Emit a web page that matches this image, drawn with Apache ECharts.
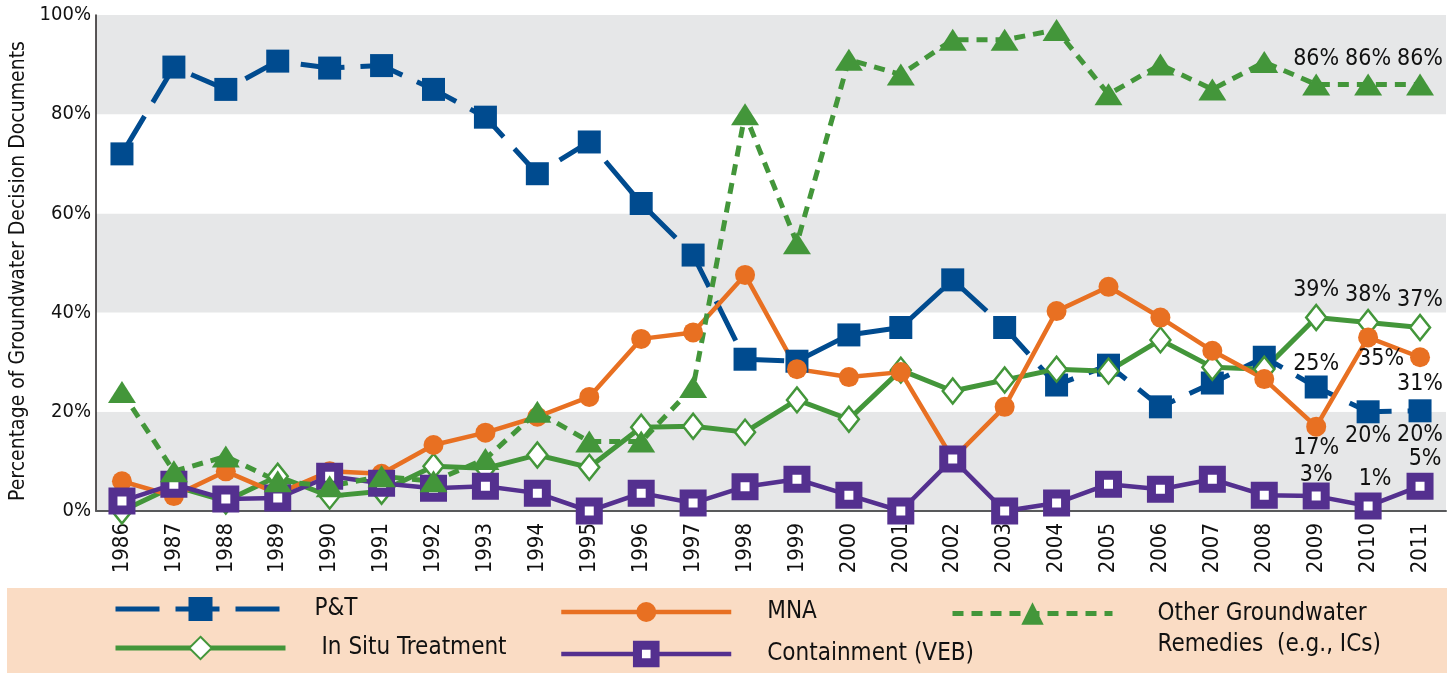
<!DOCTYPE html>
<html>
<head>
<meta charset="utf-8">
<script src="https://cdn.jsdelivr.net/npm/echarts@6/dist/echarts.min.js"></script>
<style>
  html, body { margin: 0; padding: 0; background: #fff; }
  #main { width: 1456px; height: 673px; }
</style>
</head>
<body>
<div id="main"></div>
<script>
// 年份（类目轴）
var years = ['1986', '1987', '1988', '1989', '1990', '1991', '1992', '1993', '1994', '1995', '1996', '1997', '1998',
	'1999', '2000', '2001', '2002', '2003', '2004', '2005', '2006', '2007', '2008', '2009', '2010', '2011'];

// 各类修复方式所占百分比
var ptValues = [72, 89.5, 85, 90.7, 89.3, 89.8, 85, 79.4, 68, 74.4, 62, 51.6, 30.6, 30.2, 35.5, 37, 46.6, 37, 25.4, 29.4, 21, 25.8, 31, 25, 20, 20.2];
var mnaValues = [6, 3, 8, 3.5, 8, 7.5, 13.3, 15.8, 19, 23, 34.7, 36, 47.6, 28.6, 27, 28, 10.5, 21, 40.3, 45.2, 39, 32.3, 26.6, 17, 35, 31];
var inSituValues = [0, 5, 2, 7, 3, 4, 9, 8.6, 11.3, 8.8, 16.9, 17.1, 15.9, 22.4, 18.5, 28.4, 24.2, 26.4, 28.6, 28.2, 34.5, 29, 28.6, 39, 38, 37];
var otherValues = [24, 8, 11, 6, 5, 7, 6, 10.5, 20, 14, 14, 25, 80, 54, 91, 88, 95, 95, 97, 84, 90, 85, 90.5, 86, 86, 86];
var containmentValues = [2, 5.4, 2.4, 2.6, 7, 5.6, 4.6, 5, 3.6, 0, 3.6, 1.6, 4.9, 6.4, 3.2, 0, 10.5, 0, 1.6, 5.4, 4.4, 6.4, 3.2, 3, 1, 5];

// y轴刻度
var yTicks = [0, 20, 40, 60, 80, 100];

var narrow = "'DejaVu Sans Condensed', sans-serif";

(function(){

	init();

	function init(){
		var myChart = echarts.init(document.getElementById('main'));
		myChart.setOption(buildOption());
	}

	// 最后三个点带数值标签，位置各不相同
	function withLabels(values, places){
		var n = values.length;
		return values.map(function(v, i){
			var k = i - (n - 3);
			if (k < 0) return v;
			var p = places[k];
			return {
				value: v,
				label: {
					show: true,
					position: p.pos,
					distance: p.dist,
					offset: p.off || [0, 0],
					formatter: function(params){ return Math.round(params.value) + '%'; },
					fontFamily: narrow,
					fontSize: 23,
					color: '#111'
				}
			};
		});
	}

	function legendFor(name, left, top, w, h, extra){
		var lg = {
			show: true,
			left: left,
			top: top,
			padding: 0,
			itemWidth: w,
			itemHeight: h,
			data: [name],
			selectedMode: false,
			lineStyle: { width: extra.lineWidth || 5 },
			textStyle: {
				fontFamily: narrow,
				fontSize: 24,
				color: '#111',
				padding: extra.padding || [0, 0, 0, 0],
				lineHeight: extra.lineHeight || 30
			}
		};
		if (extra.itemStyle) lg.itemStyle = extra.itemStyle;
		if (extra.formatter) lg.formatter = extra.formatter;
		return lg;
	}

	function buildOption(){
		var blue = '#004b8f', orange = '#e87022', green = '#43963a', purple = '#54308f';
		return {
			animation: false,
			backgroundColor: '#fff',
			grid: { left: 96, right: 10, top: 15, bottom: 162, outerBoundsMode: 'none' },
			//图例底色
			graphic: [{
				type: 'rect',
				left: 7, top: 588, z: -10,
				shape: { width: 1440, height: 85 },
				style: { fill: '#fadcc4' }
			}],
			legend: [
				legendFor('P&T', 113, 594, 170, 30, { padding: [0, 0, 0, 24] }),
				legendFor('In Situ Treatment', 113, 633, 170, 28, { padding: [0, 0, 0, 31] }),
				legendFor('MNA', 559, 597, 170, 25, { padding: [0, 0, 0, 31], lineWidth: 4.5 }),
				legendFor('Containment (VEB)', 559, 639, 170, 22,
					{ padding: [0, 0, 0, 31], lineWidth: 4.5, itemStyle: { borderWidth: 9 } }),
				// 两行文字：前面加一个空行，让第一行与图标对齐
				legendFor('Other Groundwater\nRemedies  (e.g., ICs)', 950, 567, 160, 28,
					{ padding: [0, 0, 0, 40], lineHeight: 31,
					  formatter: function(name){ return ' \n' + name; } })
			],
			xAxis: {
				type: 'category',
				data: years,
				boundaryGap: true,
				axisLine: { lineStyle: { color: '#58595b', width: 2 } },
				axisTick: { inside: true, length: 10, lineStyle: { color: '#333', width: 1.5 } },
				axisLabel: {
					rotate: 90,
					margin: 12,
					fontFamily: narrow,
					fontSize: 22,
					color: '#111'
				}
			},
			yAxis: {
				type: 'value',
				min: yTicks[0],
				max: yTicks[yTicks.length - 1],
				interval: 20,
				name: 'Percentage of Groundwater Decision Documents',
				nameLocation: 'middle',
				nameGap: 53,
				nameTextStyle: { fontFamily: narrow, fontSize: 21, color: '#111', padding: [0, 16, 0, 0] },
				axisLine: { show: true, lineStyle: { color: '#231f20', width: 1.5 } },
				axisTick: { show: false },
				splitLine: { show: false },
				splitArea: { show: true, areaStyle: { color: ['#e6e7e8', '#ffffff'] } },
				axisLabel: {
					margin: 5,
					formatter: '{value}%',
					fontFamily: narrow,
					fontSize: 20,
					color: '#111'
				}
			},
			series: [
				{
					name: 'P&T',
					type: 'line',
					symbol: 'rect',
					symbolSize: 23,
					itemStyle: { color: blue },
					lineStyle: { color: blue, width: 5, type: [44, 16] },
					data: withLabels(ptValues, [
						{ pos: 'top', dist: 0 },
						{ pos: 'bottom', dist: 1 },
						{ pos: 'bottom', dist: 1 }
					])
				},
				{
					name: 'In Situ Treatment',
					type: 'line',
					symbol: 'diamond',
					symbolSize: [20, 25],
					itemStyle: { color: '#fff', borderColor: green, borderWidth: 2.5 },
					lineStyle: { color: green, width: 5 },
					data: withLabels(inSituValues, [
						{ pos: 'top', dist: 2 },
						{ pos: 'top', dist: 2 },
						{ pos: 'top', dist: 2 }
					])
				},
				{
					name: 'MNA',
					type: 'line',
					symbol: 'circle',
					symbolSize: 20,
					itemStyle: { color: orange },
					lineStyle: { color: orange, width: 4.5 },
					data: withLabels(mnaValues, [
						{ pos: 'bottom', dist: 0 },
						{ pos: 'bottom', dist: 0, off: [13, 0] },
						{ pos: 'bottom', dist: 5 }
					])
				},
				{
					name: 'Containment (VEB)',
					type: 'line',
					symbol: 'rect',
					symbolSize: 18,
					itemStyle: { color: '#fff', borderColor: purple, borderWidth: 9 },
					lineStyle: { color: purple, width: 4.5 },
					data: withLabels(containmentValues, [
						{ pos: 'top', dist: -4 },
						{ pos: 'top', dist: 2, off: [7, 0] },
						{ pos: 'top', dist: 2, off: [5, 0] }
					])
				},
				{
					name: 'Other Groundwater\nRemedies  (e.g., ICs)',
					type: 'line',
					symbol: 'triangle',
					symbolSize: [28, 22],
					itemStyle: { color: green },
					lineStyle: { color: green, width: 5, type: [11, 8] },
					data: withLabels(otherValues, [
						{ pos: 'top', dist: 3 },
						{ pos: 'top', dist: 3 },
						{ pos: 'top', dist: 3 }
					])
				}
			]
		};
	}

})();
</script>
</body>
</html>
